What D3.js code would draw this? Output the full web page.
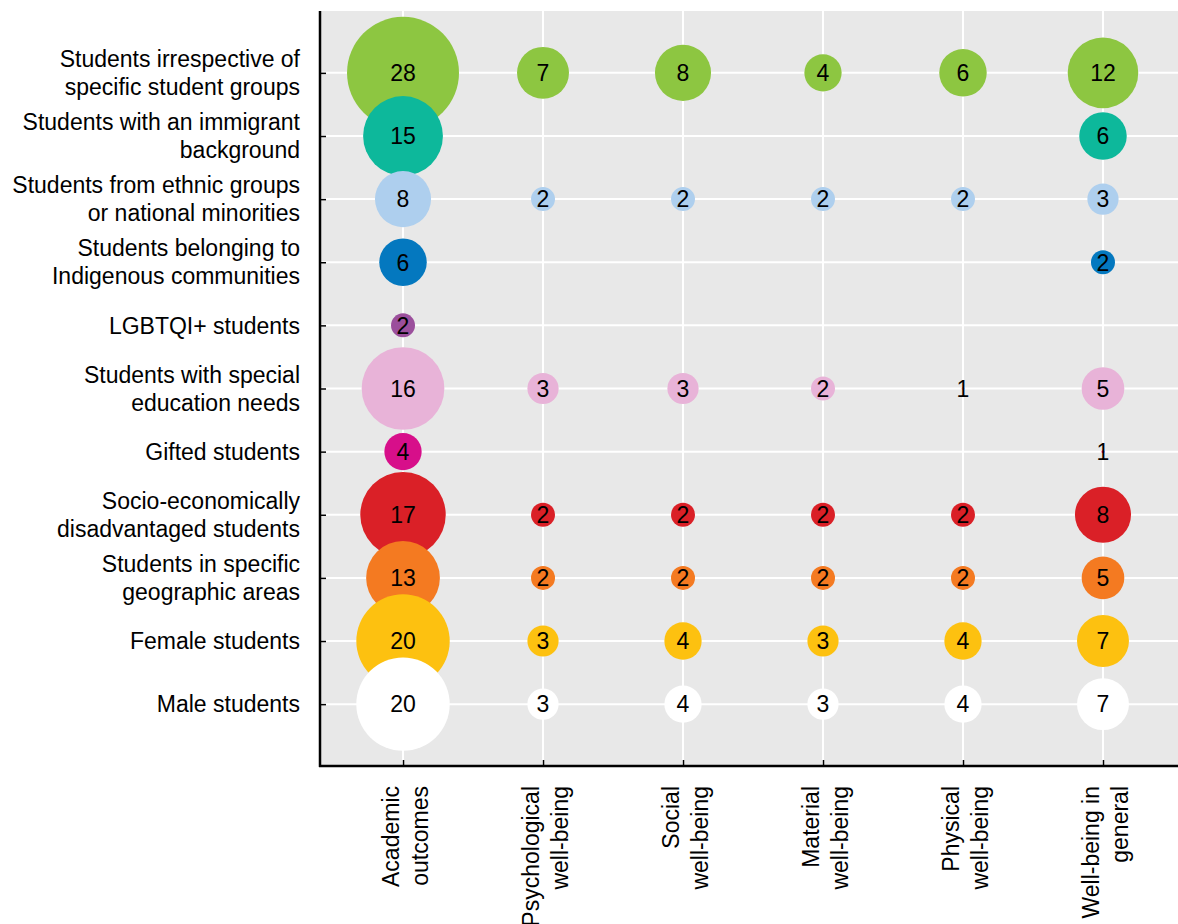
<!DOCTYPE html>
<html>
<head>
<meta charset="utf-8">
<script src="https://cdn.jsdelivr.net/npm/d3@7"></script>
<style>
  html, body { margin: 0; padding: 0; background: #ffffff; }
  svg { display: block; }
  text { font-family: "Liberation Sans", Arial, sans-serif; fill: #000; }
</style>
</head>
<body>
<svg id="chart" width="1178" height="924"></svg>
<script>
// ---- Data ----
const groups = [
  ["Students irrespective of", "specific student groups"],
  ["Students with an immigrant", "background"],
  ["Students from ethnic groups", "or national minorities"],
  ["Students belonging to", "Indigenous communities"],
  ["LGBTQI+ students"],
  ["Students with special", "education needs"],
  ["Gifted students"],
  ["Socio-economically", "disadvantaged students"],
  ["Students in specific", "geographic areas"],
  ["Female students"],
  ["Male students"]
];
const outcomes = [
  ["Academic", "outcomes"],
  ["Psychological", "well-being"],
  ["Social", "well-being"],
  ["Material", "well-being"],
  ["Physical", "well-being"],
  ["Well-being in", "general"]
];
const groupColors = [
  "#8dc641", "#0db89b", "#aecfee", "#0478bf", "#9b4f9c", "#e8b3d8",
  "#d70f8a", "#da2027", "#f47a21", "#fdc110", "#ffffff"
];
// values[row][col]; null = no bubble
const academic      = [28, 15, 8, 6, 2, 16, 4, 17, 13, 20, 20];
const psychological = [7, null, 2, null, null, 3, null, 2, 2, 3, 3];
const social        = [8, null, 2, null, null, 3, null, 2, 2, 4, 4];
const material      = [4, null, 2, null, null, 2, null, 2, 2, 3, 3];
const physical      = [6, null, 2, null, null, 1, null, 2, 2, 4, 4];
const general       = [12, 6, 3, 2, null, 5, 1, 8, 5, 7, 7];
const columns = [academic, psychological, social, material, physical, general];

// ---- Layout ----
const svg = d3.select("#chart");
const plot = { left: 320, right: 1186, top: 11, bottom: 766 };

const groupKeys = groups.map(g => g.join(" "));
const outcomeKeys = outcomes.map(o => o.join(" "));

const x = d3.scalePoint().domain(outcomeKeys).range([plot.left, plot.right]).padding(0.593);
const y = d3.scalePoint().domain(groupKeys).range([plot.top, plot.bottom]).padding(0.98);
const r = d3.scaleSqrt().domain([1, 2, 28]).range([1.5, 12, 56]);

const cells = [];
groupKeys.forEach((g, i) => {
  outcomeKeys.forEach((o, j) => {
    const v = columns[j][i];
    if (v != null) cells.push({ g, o, v, color: groupColors[i] });
  });
});

// background
svg.append("rect")
  .attr("x", plot.left).attr("y", plot.top)
  .attr("width", plot.right - plot.left).attr("height", plot.bottom - plot.top)
  .attr("fill", "#e8e8e8");

// gridlines
svg.append("g").selectAll("line").data(outcomeKeys).join("line")
  .attr("x1", d => x(d)).attr("x2", d => x(d))
  .attr("y1", plot.top).attr("y2", plot.bottom)
  .attr("stroke", "#ffffff").attr("stroke-width", 2);
svg.append("g").selectAll("line").data(groupKeys).join("line")
  .attr("x1", plot.left).attr("x2", plot.right)
  .attr("y1", d => y(d)).attr("y2", d => y(d))
  .attr("stroke", "#ffffff").attr("stroke-width", 2);

// bubbles
svg.append("g").selectAll("circle").data(cells).join("circle")
  .attr("cx", d => x(d.o)).attr("cy", d => y(d.g))
  .attr("r", d => r(d.v))
  .attr("fill", d => d.color);

// bubble labels
svg.append("g").selectAll("text").data(cells).join("text")
  .attr("x", d => x(d.o)).attr("y", d => y(d.g))
  .attr("dy", "0.36em")
  .attr("text-anchor", "middle")
  .attr("font-size", 23)
  .text(d => d.v);

// axes
const yAxis = svg.append("g").attr("transform", `translate(${plot.left},0)`)
  .call(d3.axisRight(y).tickSize(6).tickFormat(""));
yAxis.select(".domain").remove();
yAxis.selectAll(".tick line").attr("stroke", "#000").attr("stroke-width", 1.5);

const xAxis = svg.append("g").attr("transform", `translate(0,${plot.bottom})`)
  .call(d3.axisTop(x).tickSize(6).tickFormat(""));
xAxis.select(".domain").remove();
xAxis.selectAll(".tick line").attr("stroke", "#000").attr("stroke-width", 1.5);

svg.append("line")
  .attr("x1", plot.left).attr("x2", plot.left)
  .attr("y1", plot.top).attr("y2", plot.bottom + 1)
  .attr("stroke", "#000").attr("stroke-width", 2.5);
svg.append("line")
  .attr("x1", plot.left - 1).attr("x2", 1178)
  .attr("y1", plot.bottom).attr("y2", plot.bottom)
  .attr("stroke", "#000").attr("stroke-width", 2.5);

// y labels
const lh = 28;
const yl = svg.append("g").selectAll("text").data(groups).join("text")
  .attr("text-anchor", "end")
  .attr("font-size", 23)
  .attr("transform", (d, i) => `translate(300,${y(groupKeys[i])})`);
yl.each(function(d) {
  const t = d3.select(this);
  const n = d.length;
  const first = 8.25 - (n - 1) * lh / 2;
  d.forEach((line, k) => {
    t.append("tspan").attr("x", 0).attr("y", first + k * lh).text(line);
  });
});

// x labels (rotated)
const xl = svg.append("g").selectAll("text").data(outcomes).join("text")
  .attr("text-anchor", "end")
  .attr("font-size", 23)
  .attr("transform", (d, i) => `translate(${x(outcomeKeys[i])},786) rotate(-90)`);
xl.each(function(d) {
  const t = d3.select(this);
  d.forEach((line, k) => {
    t.append("tspan").attr("x", 0).attr("y", -4 + k * 29).text(line);
  });
});
</script>
</body>
</html>
